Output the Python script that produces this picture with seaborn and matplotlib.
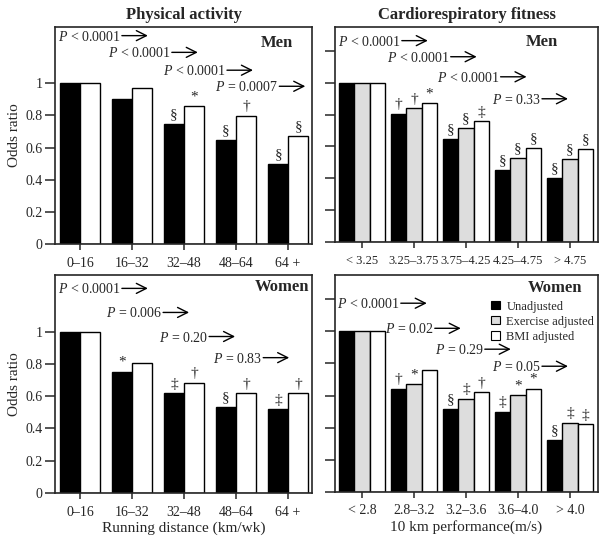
import pandas as pd
import matplotlib
matplotlib.use('Agg')
import matplotlib.pyplot as plt
import seaborn as sns

# categories
pa_groups = ['0–16', '16–32', '32–48', '48–64', '64 +']
crf_men_groups = ['< 3.25', '3.25–3.75', '3.75–4.25', '4.25–4.75', '> 4.75']
crf_women_groups = ['< 2.8', '2.8–3.2', '3.2–3.6', '3.6–4.0', '> 4.0']

# odds ratios
pa_men_unadj = [1.0, 0.90, 0.747, 0.648, 0.499]
pa_men_bmi = [1.0, 0.969, 0.859, 0.799, 0.671]
pa_women_unadj = [1.0, 0.752, 0.617, 0.534, 0.518]
pa_women_bmi = [1.0, 0.807, 0.683, 0.617, 0.617]

crf_men_unadj = [1.0, 0.805, 0.646, 0.455, 0.403]
crf_men_exer = [1.0, 0.839, 0.713, 0.528, 0.522]
crf_men_bmi = [1.0, 0.872, 0.757, 0.591, 0.581]
crf_women_unadj = [1.0, 0.643, 0.515, 0.498, 0.326]
crf_women_exer = [1.0, 0.670, 0.577, 0.602, 0.432]
crf_women_bmi = [1.0, 0.757, 0.620, 0.643, 0.421]

# significance marks above bars
pa_men_unadj_sig = ['', '', '§', '§', '§']
pa_men_bmi_sig = ['', '', '*', '†', '§']
pa_women_unadj_sig = ['', '*', '‡', '§', '‡']
pa_women_bmi_sig = ['', '', '†', '†', '†']
crf_men_unadj_sig = ['', '†', '§', '§', '§']
crf_men_exer_sig = ['', '†', '§', '§', '§']
crf_men_bmi_sig = ['', '*', '‡', '§', '§']
crf_women_unadj_sig = ['', '†', '§', '‡', '§']
crf_women_exer_sig = ['', '*', '‡', '*', '‡']
crf_women_bmi_sig = ['', '', '†', '*', '‡']

# trend P values
pa_men_p = ['< 0.0001', '< 0.0001', '< 0.0001', '= 0.0007']
crf_men_p = ['< 0.0001', '< 0.0001', '< 0.0001', '= 0.33']
pa_women_p = ['< 0.0001', '= 0.006', '= 0.20', '= 0.83']
crf_women_p = ['< 0.0001', '= 0.02', '= 0.29', '= 0.05']

models = ['Unadjusted', 'Exercise adjusted', 'BMI adjusted']
palette = {'Unadjusted': 'black', 'Exercise adjusted': '#dddddd', 'BMI adjusted': 'white'}

sns.set_style('ticks')
plt.rcParams['font.family'] = ['Liberation Serif', 'DejaVu Serif']
plt.rcParams['mathtext.fontset'] = 'custom'
plt.rcParams['mathtext.it'] = 'Liberation Serif:italic'
plt.rcParams['mathtext.rm'] = 'Liberation Serif'
plt.rcParams['axes.linewidth'] = 1.2

fig = plt.figure(figsize=(6.04, 5.42), dpi=100)

# layout: axes rects, P text spots (group units, odds ratio), sex label spot
panels = [
    dict(rect=[0.0911, 0.5498, 0.4255, 0.4004], groups=pa_groups,
         series=[('Unadjusted', pa_men_unadj, pa_men_unadj_sig), ('BMI adjusted', pa_men_bmi, pa_men_bmi_sig)],
         pvals=pa_men_p, ppos=[(-0.42, 1.29), (0.54, 1.186), (1.60, 1.075), (2.60, 0.975)],
         sex='Men', sexpos=(4.10, 1.248), width=0.77, xlim=(-0.48, 4.46), ylabels=True, xfs=10),
    dict(rect=[0.5546, 0.5535, 0.4354, 0.3967], groups=crf_men_groups,
         series=[('Unadjusted', crf_men_unadj, crf_men_unadj_sig), ('Exercise adjusted', crf_men_exer, crf_men_exer_sig),
                 ('BMI adjusted', crf_men_bmi, crf_men_bmi_sig)],
         pvals=crf_men_p, ppos=[(-0.46, 1.258), (0.48, 1.157), (1.44, 1.031), (2.50, 0.893)],
         sex='Men', sexpos=(3.77, 1.258), width=0.88, xlim=(-0.52, 4.54), ylabels=False, xfs=9),
    dict(rect=[0.0911, 0.0904, 0.4255, 0.4022], groups=pa_groups,
         series=[('Unadjusted', pa_women_unadj, pa_women_unadj_sig), ('BMI adjusted', pa_women_bmi, pa_women_bmi_sig)],
         pvals=pa_women_p, ppos=[(-0.42, 1.261), (0.50, 1.112), (1.52, 0.963), (2.56, 0.832)],
         sex='Women', sexpos=(4.40, 1.273), width=0.77, xlim=(-0.48, 4.46), ylabels=True, xfs=10),
    dict(rect=[0.5546, 0.0923, 0.4354, 0.4004], groups=crf_women_groups,
         series=[('Unadjusted', crf_women_unadj, crf_women_unadj_sig), ('Exercise adjusted', crf_women_exer, crf_women_exer_sig),
                 ('BMI adjusted', crf_women_bmi, crf_women_bmi_sig)],
         pvals=crf_women_p, ppos=[(-0.48, 1.168), (0.44, 1.012), (1.40, 0.882), (2.50, 0.776)],
         sex='Women', sexpos=(4.23, 1.267), width=0.88, xlim=(-0.52, 4.54), ylabels=False, xfs=10),
]

axes = []
ptexts = []
for p in panels:
    ax = fig.add_axes(p['rect'])
    axes.append(ax)
    rows = []
    for name, vals, _ in p['series']:
        for g, v in zip(p['groups'], vals):
            rows.append({'group': g, 'model': name, 'value': v})
    df = pd.DataFrame(rows)
    hue_order = [s[0] for s in p['series']]
    sns.barplot(data=df, x='group', y='value', hue='model', order=p['groups'], hue_order=hue_order,
                palette=palette, saturation=1, edgecolor='black', linewidth=1, width=p['width'],
                errorbar=None, legend=False, ax=ax)

    # significance marks
    for cont, (_, _, sigs) in zip(ax.containers, p['series']):
        for bar, s in zip(cont.patches, sigs):
            if s:
                ax.annotate(s, (bar.get_x() + bar.get_width() / 2, bar.get_height()),
                            xytext=(0, 2), textcoords='offset points', ha='center', va='bottom', fontsize=11)

    for txt, (x, y) in zip(p['pvals'], p['ppos']):
        t = ax.text(x, y, r'$P$ ' + txt, fontsize=10, ha='left', va='center')
        ptexts.append((ax, t))

    ax.text(p['sexpos'][0], p['sexpos'][1], p['sex'], fontsize=12, fontweight='bold', ha='right', va='center')

    ax.set_xlim(*p['xlim'])
    ax.set_ylim(0, 1.35)
    ax.set_xlabel('')
    ax.set_ylabel('')
    if p['ylabels']:
        ax.set_yticks([0, 0.2, 0.4, 0.6, 0.8, 1])
        ax.set_yticklabels(['0', '0.2', '0.4', '0.6', '0.8', '1'], fontsize=10)
        ax.set_ylabel('Odds ratio', fontsize=11, labelpad=3)
    else:
        ax.set_yticks([0, 0.2, 0.4, 0.6, 0.8, 1, 1.2])
        ax.set_yticklabels([])
    ax.tick_params(axis='x', labelsize=p['xfs'], length=4, width=1.1, pad=5)
    ax.tick_params(axis='y', length=7, width=1.1, pad=2)
    for sp in ax.spines.values():
        sp.set_visible(True)
        sp.set_linewidth(1.2)

axes[0].set_title('Physical activity', fontsize=12, fontweight='bold', pad=6)
axes[1].set_title('Cardiorespiratory fitness', fontsize=12, fontweight='bold', pad=6)
axes[2].set_xlabel('Running distance (km/wk)', fontsize=11, labelpad=2)
axes[3].set_xlabel('10 km performance(m/s)', fontsize=11, labelpad=2)

# legend in the women / fitness panel
handles = [plt.Rectangle((0, 0), 1, 1, facecolor=palette[m], edgecolor='black', linewidth=0.8) for m in models]
axes[3].legend(handles, models, loc='upper left', bbox_to_anchor=(0.595, 0.882), frameon=False,
               fontsize=9, handlelength=0.65, handleheight=0.65, handletextpad=0.55,
               labelspacing=0.25, borderpad=0, borderaxespad=0)

# arrows after each P text
fig.canvas.draw()
renderer = fig.canvas.get_renderer()
for ax, t in ptexts:
    bb = t.get_window_extent(renderer)
    ym = (bb.y0 + bb.y1) / 2 + 1
    ax.annotate('', xy=(bb.x1 + 27, ym), xytext=(bb.x1 + 1, ym), xycoords='figure pixels',
                textcoords='figure pixels',
                arrowprops=dict(arrowstyle='->, head_length=0.6, head_width=0.3', lw=1, color='black',
                                shrinkA=0, shrinkB=0, mutation_scale=12))

plt.savefig('out.png', dpi=100)
